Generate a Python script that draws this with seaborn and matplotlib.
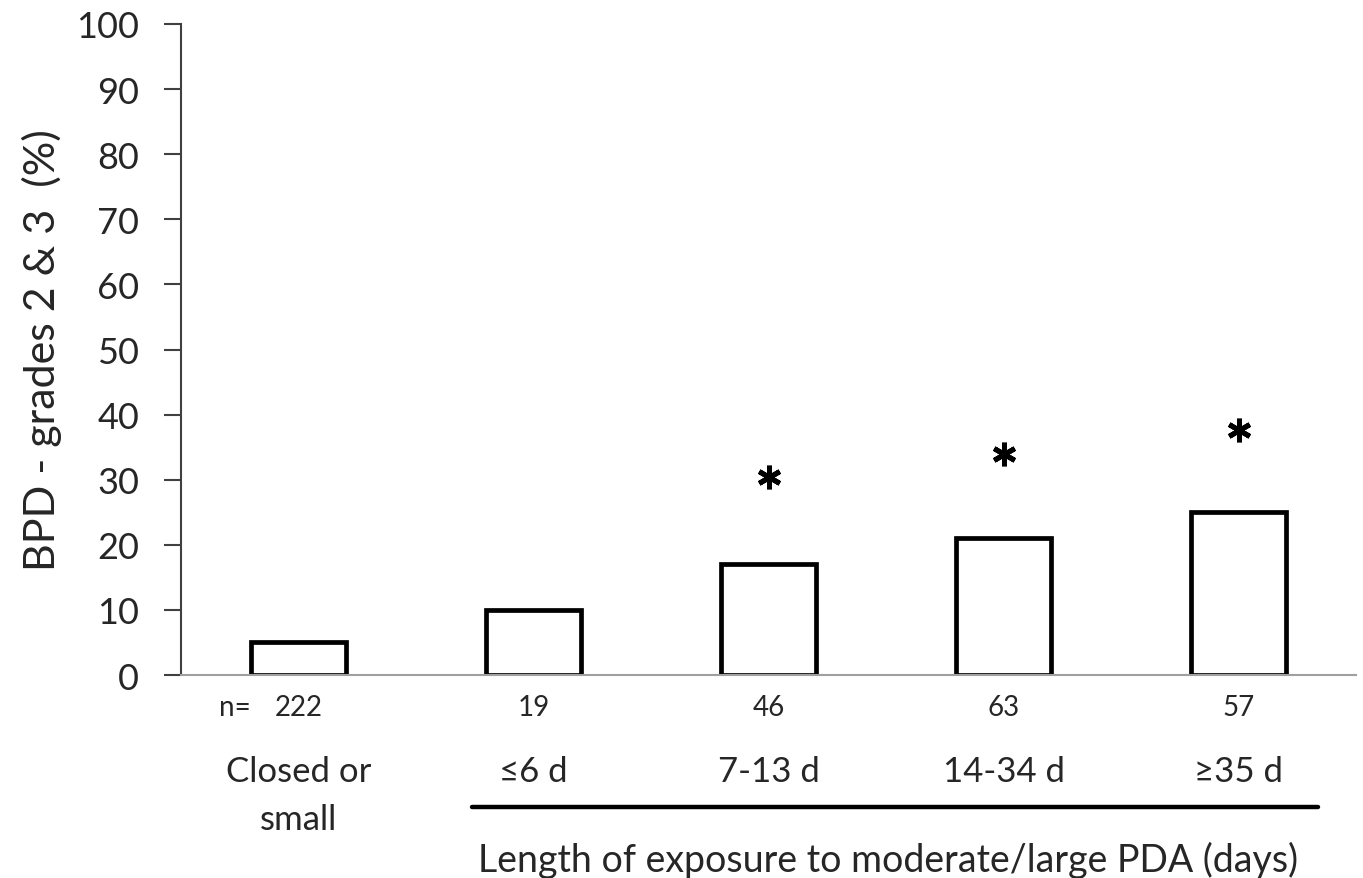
import matplotlib
matplotlib.use("Agg")
import matplotlib.pyplot as plt
import matplotlib.transforms as mtransforms
import pandas as pd
import seaborn as sns

# data
groups = ["Closed or\nsmall", "≤6 d", "7-13 d", "14-34 d", "≥35 d"]
bpd_pct = [5, 10, 17, 21, 25]
n_counts = ["222", "19", "46", "63", "57"]
star_groups = [2, 3, 4]
star_y = [30.4, 33.9, 37.6]

df = pd.DataFrame({"group": groups, "bpd": bpd_pct})

sns.set_theme(style="ticks")
plt.rcParams["font.family"] = ["Lato", "DejaVu Sans"]

fig = plt.figure(figsize=(13.63, 8.79), dpi=100)
ax = fig.add_axes([0.1328, 0.2309, 0.8621, 0.7407])

sns.barplot(data=df, x="group", y="bpd", ax=ax, color="white",
            edgecolor="black", linewidth=3.4, width=0.405, saturation=1)

ax.set_xlim(-0.5, 4.5)
ax.set_ylim(0, 100)
ax.set_yticks(range(0, 101, 10))
ax.tick_params(axis="y", labelsize=26, length=12, width=1.5,
               color="#404040", direction="out", pad=18)
ax.tick_params(axis="x", bottom=False, labelbottom=False)
ax.set_xlabel("")
ax.set_ylabel("BPD - grades 2 & 3  (%)", fontsize=31, labelpad=10)

for s in ["top", "right"]:
    ax.spines[s].set_visible(False)
ax.spines["left"].set_color("#404040")
ax.spines["left"].set_linewidth(1.5)
ax.spines["bottom"].set_color("#a0a0a0")
ax.spines["bottom"].set_linewidth(1.5)

# significance marks (asterisks)
ax.plot([groups[i] for i in star_groups], star_y, linestyle="none",
        marker=(6, 2, 0), markersize=17, markeredgewidth=3.6,
        color="black", clip_on=False)

# n labels and group labels below the axis
trans = mtransforms.blended_transform_factory(ax.transData, fig.transFigure)
for i, n in enumerate(n_counts):
    ax.text(i, 1 - 708 / 879, n, transform=trans, ha="center", va="center",
            fontsize=20)
ax.text(-0.27, 1 - 708 / 879, "n=", transform=trans, ha="center",
        va="center", fontsize=20)

first, second = groups[0].split("\n")
ax.text(0, 1 - 772 / 879, first, transform=trans, ha="center",
        va="center", fontsize=25)
ax.text(0, 1 - 820 / 879, second, transform=trans, ha="center",
        va="center", fontsize=25)
for i in range(1, len(groups)):
    ax.text(i, 1 - 772 / 879, groups[i], transform=trans, ha="center",
            va="center", fontsize=25)

# bracket line under the PDA exposure groups
ax.plot([0.738, 4.338], [1 - 808 / 879] * 2, transform=trans, color="black",
        lw=3.2, clip_on=False)
ax.text(2.51, 1 - 860 / 879, "Length of exposure to moderate/large PDA (days)",
        transform=trans, ha="center", va="center", fontsize=27)

fig.savefig("out.png", dpi=100)
